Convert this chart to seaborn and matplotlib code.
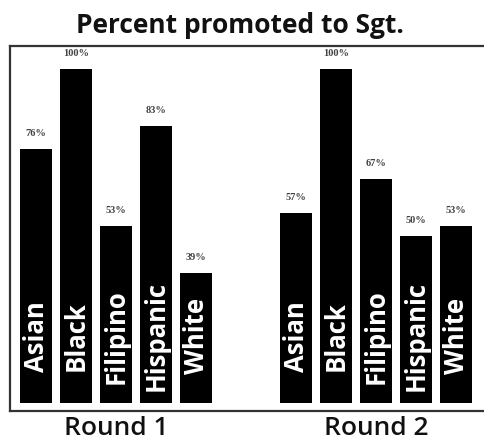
import matplotlib
matplotlib.use("Agg")
import matplotlib.pyplot as plt
import seaborn as sns
import pandas as pd

# ---- data ----
groups = ["Round 1", "Round 2"]
categories = ["Asian", "Black", "Filipino", "Hispanic", "White"]
round1 = [76, 100, 53, 83, 39]
round2 = [57, 100, 67, 50, 53]
title = "Percent promoted to Sgt."

sns.set_theme(style="white")
plt.rcParams["font.family"] = ["Open Sans", "DejaVu Sans"]

# build long table; x position = group offset + category index
group_gap = 6.5
rows = []
for g, vals in enumerate([round1, round2]):
    for i, (c, v) in enumerate(zip(categories, vals)):
        rows.append({"group": groups[g], "category": c, "value": v,
                     "pos": g * group_gap + i})
df = pd.DataFrame(rows)

fig = plt.figure(figsize=(4.84, 4.45), dpi=100)
ax = fig.add_axes([10 / 484, 34 / 445, 474 / 484, 365 / 445])

sns.barplot(data=df, x="pos", y="value", native_scale=True, color="black",
            saturation=1, width=0.8, edgecolor="none", ax=ax)

ax.set_xlim(-0.65, 11.2)
ax.set_ylim(-2.4, 106.9)
ax.set_xlabel("")
ax.set_ylabel("")
ax.set_yticks([])

# group labels
centers = [g * group_gap + (len(categories) - 1) / 2 for g in range(len(groups))]
ax.set_xticks(centers, groups)
ax.tick_params(axis="x", length=0, pad=3.5, labelsize=19, labelcolor="#111111")
for lbl in ax.get_xticklabels():
    lbl.set_fontweight("semibold")

# spines
for side in ["left", "top", "bottom"]:
    ax.spines[side].set_visible(True)
    ax.spines[side].set_color("#333333")
    ax.spines[side].set_linewidth(1.6)
ax.spines["right"].set_visible(False)

# labels in and above bars
for _, r in df.iterrows():
    ax.text(r["pos"], 20, r["category"], rotation=90, ha="center", va="center",
            color="white", fontsize=18.5, fontweight="bold")
    ax.annotate(f"{r['value']}%", (r["pos"], r["value"]), xytext=(0, 8),
                textcoords="offset points", ha="center", va="bottom",
                fontsize=7.5, fontweight="bold", color="#444444",
                family=["Liberation Serif", "DejaVu Serif"])

fig.text(240 / 484, 1 - 33 / 445, title, ha="center", va="baseline",
         fontsize=19, fontweight="bold", color="#111111")

fig.savefig("out.png", dpi=100)
